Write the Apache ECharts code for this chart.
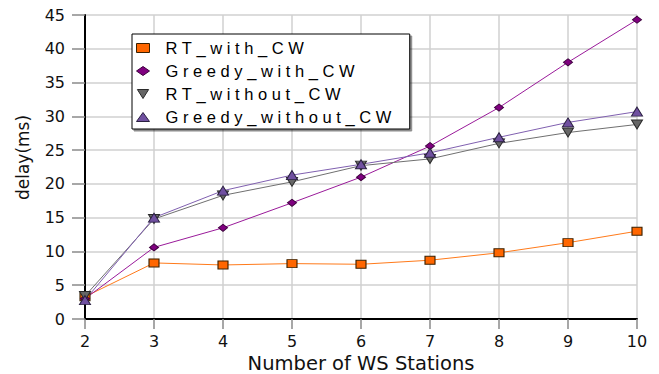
<!DOCTYPE html>
<html>
<head>
<meta charset="utf-8">
<script src="https://cdn.jsdelivr.net/npm/echarts@6/dist/echarts.min.js"></script>
<style>
  html, body { margin: 0; padding: 0; background: #ffffff; }
  #chart { width: 659px; height: 374px; }
  /* legend labels are set in widely tracked Arial-style type */
  #chart text[style*="Liberation Sans"] { letter-spacing: 4.6px; }
</style>
</head>
<body>
<div id="chart"></div>
<script>
// Number of WS stations (x) and measured delay in ms for each scheme
const stations = [2, 3, 4, 5, 6, 7, 8, 9, 10];
const rtWithCW = [3.3, 8.3, 8.0, 8.2, 8.1, 8.7, 9.8, 11.3, 13.0];
const greedyWithCW = [3.0, 10.6, 13.5, 17.2, 21.0, 25.6, 31.3, 38.0, 44.3];
const rtWithoutCW = [3.4, 14.8, 18.3, 20.3, 22.7, 23.7, 26.0, 27.6, 28.8];
const greedyWithoutCW = [2.8, 15.0, 19.0, 21.3, 22.9, 24.6, 26.9, 29.1, 30.7];
const seriesNames = ['RT_with_CW', 'Greedy_with_CW', 'RT_without_CW', 'Greedy_without_CW'];
const yTicks = [0, 5, 10, 15, 20, 25, 30, 35, 40, 45];

const triangleDown = 'path://M0,0L20,0L10,16Z';
const axisFont = 'DejaVu Sans';

function pairs(values) {
  return stations.map((x, i) => [x, values[i]]);
}

function lineSeries(name, values, symbol, size, fill, border, lineColor) {
  return {
    name: name,
    type: 'line',
    data: pairs(values),
    symbol: symbol,
    symbolSize: size,
    showAllSymbol: true,
    clip: false,
    lineStyle: { color: lineColor, width: 1 },
    itemStyle: { color: fill, borderColor: border, borderWidth: 1 },
    emphasis: { disabled: true },
    animation: false
  };
}

const chart = echarts.init(document.getElementById('chart'), null, { renderer: 'svg' });

chart.setOption({
  backgroundColor: '#ffffff',
  animation: false,
  grid: { left: 85, right: 22, top: 15, bottom: 55, containLabel: false, outerBoundsMode: 'none' },
  legend: {
    data: [
      { name: seriesNames[0], icon: 'rect' },
      { name: seriesNames[1], icon: 'diamond' },
      { name: seriesNames[2], icon: triangleDown },
      { name: seriesNames[3], icon: 'triangle' }
    ],
    orient: 'vertical',
    left: 132,
    top: 34,
    itemWidth: 13,
    itemHeight: 9,
    itemGap: 5,
    padding: [5, 92, 3, 4],
    backgroundColor: '#ffffff',
    borderColor: '#000000',
    borderWidth: 1,
    shadowColor: 'rgba(0,0,0,0.45)',
    shadowOffsetX: 2,
    shadowOffsetY: 2,
    selectedMode: false,
    itemStyle: { borderWidth: 1 },
    textStyle: {
      fontFamily: 'Liberation Sans',
      fontSize: 16.5,
      color: '#000000',
      lineHeight: 18,
      padding: [0, 0, 0, 11]
    }
  },
  xAxis: {
    type: 'value',
    min: stations[0],
    max: stations[stations.length - 1],
    interval: 1,
    name: 'Number of WS Stations',
    nameLocation: 'middle',
    nameGap: 36,
    nameMoveOverlap: false,
    nameTextStyle: { fontFamily: axisFont, fontSize: 19.5, color: '#111111', lineHeight: 16 },
    axisLine: { onZero: false, lineStyle: { color: '#000000', width: 2 } },
    axisTick: { show: true, length: 10, lineStyle: { color: '#8a8a8a', width: 1.5 } },
    axisLabel: { fontFamily: axisFont, fontSize: 16, color: '#111111', margin: 16, lineHeight: 13 },
    splitLine: { show: true, lineStyle: { color: '#d0d0d0', width: 1.5 } }
  },
  yAxis: {
    type: 'value',
    min: yTicks[0],
    max: yTicks[yTicks.length - 1],
    interval: yTicks[1] - yTicks[0],
    name: 'delay(ms)',
    nameLocation: 'middle',
    nameGap: 54,
    nameMoveOverlap: false,
    nameTextStyle: { fontFamily: axisFont, fontSize: 17, color: '#111111', padding: [0, 0, 0, 19] },
    axisLine: { show: true, onZero: false, lineStyle: { color: '#000000', width: 2 } },
    axisTick: { show: true, length: 13, lineStyle: { color: '#8a8a8a', width: 1.5 } },
    axisLabel: { fontFamily: axisFont, fontSize: 16, color: '#111111', margin: 20 },
    splitLine: { show: true, lineStyle: { color: '#d0d0d0', width: 1.5 } }
  },
  series: [
    lineSeries(seriesNames[0], rtWithCW, 'rect', [10, 8], '#ff6600', '#3a2000', '#ff7a1a'),
    lineSeries(seriesNames[1], greedyWithCW, 'diamond', [9, 7], '#800080', '#3d003d', '#9a1a9a'),
    lineSeries(seriesNames[2], rtWithoutCW, triangleDown, [11, 9], '#666666', '#2a2a2a', '#707070'),
    lineSeries(seriesNames[3], greedyWithoutCW, 'triangle', [11, 9], '#7050a0', '#2a2040', '#8060b0')
  ]
});
</script>
</body>
</html>
